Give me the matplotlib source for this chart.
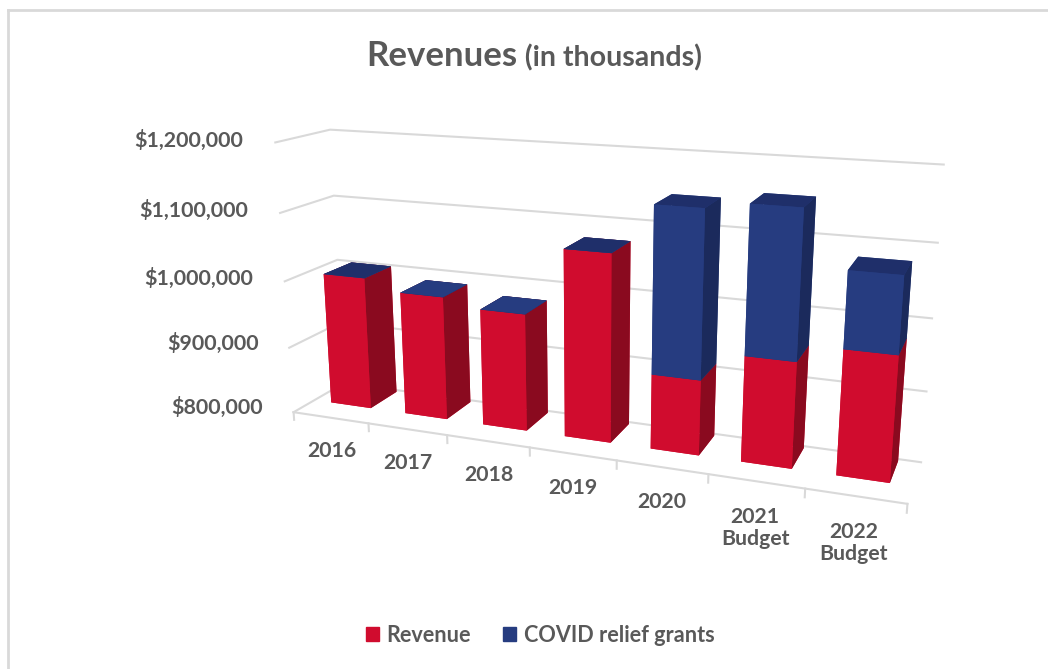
import numpy as np
import matplotlib.pyplot as plt
from matplotlib.patches import Patch
from matplotlib.lines import Line2D
from mpl_toolkits.mplot3d import proj3d

# Datos
anios = ['2016', '2017', '2018', '2019', '2020', '2021\nBudget', '2022\nBudget']
revenue = [1000000, 984000, 972000, 1070000, 907000, 948000, 972000]
covid = [0, 0, 0, 0, 233000, 202000, 103000]
ticks_y = [800000, 900000, 1000000, 1100000, 1200000]

plt.rcParams['font.family'] = ['Lato', 'DejaVu Sans']
plt.rcParams['font.weight'] = 'bold'
gris = '#595959'
linea = '#D9D9D9'

rojo, rojo_lado = '#D00C2E', '#8A0A1F'
azul, azul_lado, azul_top = '#263C80', '#1B2A5C', '#1F2F6A'

fig = plt.figure(figsize=(10.48, 6.69), dpi=100)

# marco del area del grafico
fig.add_artist(Line2D([8/1048, 1], [1-10/669, 1-10/669], color=linea, lw=2))
fig.add_artist(Line2D([8/1048, 8/1048], [0, 1-10/669], color=linea, lw=2))

# eje 3D cuadrado grande, centrado donde va la caja
S = 825
cx, cy = 580, 310
ax = fig.add_axes([(cx - S/2)/1048, (669 - cy - S/2)/669, S/1048, S/669],
                  projection='3d', computed_zorder=False)
ax.set_proj_type('persp', focal_length=0.28)
ax.view_init(elev=15.5, azim=-69)
ax.set_box_aspect((7, 1.1, 3.15), zoom=0.85)
ax.set_xticks([]); ax.set_yticks([]); ax.set_zticks([])
ax.set_axis_off()

x0, x1 = -0.5, 6.5
y0, y1 = 0.0, 1.0
z0, z1 = 800000, 1200000
ax.set_xlim(x0, x1)
ax.set_ylim(y0, y1)
ax.set_zlim(z0, z1)

# lineas de division en pared izquierda y fondo
for v in ticks_y:
    ax.plot([x0, x0, x1], [y0, y1, y1], [v, v, v], color=linea, lw=1.5, zorder=1)
# borde frontal del piso y marcas
ax.plot([x0, x1], [y0, y0], [z0, z0], color=linea, lw=1.5, zorder=1)
for k in range(len(anios) + 1):
    ax.plot([x0 + k, x0 + k], [y0, y0], [z0, z0 - 12000], color=linea, lw=1.5, zorder=1)

# barras
n = len(anios)
ancho, fondo = 0.54, 0.55
xs = np.arange(n) - ancho / 2
ys = np.full(n, 0.4)
# orden de caras: -z, +z, -y, +y, -x, +x
caras_rojo = [rojo, azul_top, rojo, rojo, rojo, rojo_lado] * n
caras_azul = [azul, azul_top, azul, azul, azul, azul_lado] * n
ax.bar3d(xs, ys, np.full(n, z0), ancho, fondo, np.array(revenue) - z0,
         color=caras_rojo, shade=False, zorder=2)
ax.bar3d(xs, ys, np.array(revenue), ancho, fondo, np.array(covid),
         color=caras_azul, shade=False, zorder=3)

fig.canvas.draw()
M = ax.get_proj()


def texto(x, y, z, s, **kw):
    # proyecta el punto 3D y pone el texto en coordenadas 2D del eje
    px, py, _ = proj3d.proj_transform(x, y, z, M)
    return ax.text2D(px, py, s, transform=ax.transData, color=gris,
                     fontweight='bold', zorder=4, **kw)


# etiquetas del eje de valores
for v in ticks_y:
    texto(x0 - 0.42, y0, v, '${:,.0f}'.format(v), ha='right', va='center',
          fontsize=15.4)
# etiquetas de categorias
for i, a in enumerate(anios):
    texto(i, y0, z0 - 36000, a, ha='center', va='top', fontsize=15.3,
          linespacing=1.1)

# titulo
t1 = fig.text(0.5, 1 - 66/669, 'Revenues', ha='left', va='baseline',
              color=gris, fontsize=25, fontweight='bold')
t2 = fig.text(0.5, 1 - 66/669, ' (in thousands)', ha='left', va='baseline',
              color=gris, fontsize=20.5, fontweight='bold')
r = fig.canvas.get_renderer()
w1 = t1.get_window_extent(r).width
w2 = t2.get_window_extent(r).width
xi = 534 - (w1 + w2) / 2
t1.set_x(xi / 1048)
t2.set_x((xi + w1) / 1048)

# leyenda
fig.legend(handles=[Patch(color=rojo, label='Revenue'),
                    Patch(color=azul, label='COVID relief grants')],
           loc='center', bbox_to_anchor=(540/1048, 1 - 635/669), ncol=2,
           frameon=False, handlelength=0.6, handleheight=0.6,
           handletextpad=0.35, columnspacing=1.5,
           prop={'size': 15.6, 'weight': 'bold'}, labelcolor=gris)

plt.savefig('out.png', dpi=100)
